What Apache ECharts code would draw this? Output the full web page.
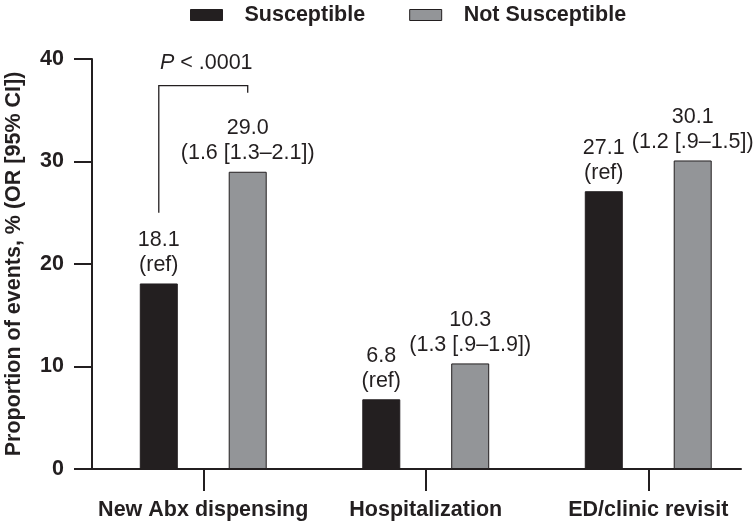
<!DOCTYPE html>
<html>
<head>
<meta charset="utf-8">
<script src="https://cdn.jsdelivr.net/npm/echarts@6/dist/echarts.min.js"></script>
<style>html,body{margin:0;padding:0;background:#fff}#c{width:754px;height:528px}</style>
</head>
<body>
<div id="c"></div>
<script>
var categories = ['New Abx dispensing', 'Hospitalization', 'ED/clinic revisit'];
var susceptible = [18.1, 6.8, 27.1];
var notSusceptible = [29.0, 10.3, 30.1];
var susceptibleLabels = ['18.1\n(ref)', '6.8\n(ref)', '27.1\n(ref)'];
var notSusceptibleLabels = ['29.0\n(1.6 [1.3\u20132.1])', '10.3\n(1.3 [.9\u20131.9])', '30.1\n(1.2 [.9\u20131.5])'];
var yTicks = [0, 10, 20, 30, 40];
// significance bracket: category index, top level, left foot, right foot
var bracketCategory = 0;
var bracketTop = 37.4;
var bracketLeftFoot = 25.0;
var bracketRightFoot = 36.7;
var bracketText = '{i|P} < .0001';

var INK = '#231f20';
var GRAY = '#939598';
var FONT = '"Liberation Sans", Arial, Helvetica, sans-serif';
var FS = 21.5;
var BAR_W = 38;
var BAR_GAP = 134; // percent

var chart = echarts.init(document.getElementById('c'), null, {renderer: 'canvas'});

function makeLabel(arr) {
  return {
    show: true, position: 'top', distance: 6,
    color: INK, fontFamily: FONT, fontSize: FS, lineHeight: 25,
    formatter: function (p) { return arr[p.dataIndex]; }
  };
}

var option = {
  animation: false,
  textStyle: {fontFamily: FONT},
  legend: {
    left: 185, top: -1,
    itemWidth: 32, itemHeight: 11, itemGap: 44,
    textStyle: {color: INK, fontSize: FS, fontWeight: 'bold', fontFamily: FONT, padding: [0, 0, 0, 17]},
    data: [
      {name: 'Susceptible', icon: 'rect', itemStyle: {color: INK, borderColor: INK, borderWidth: 1}},
      {name: 'Not Susceptible', icon: 'rect', itemStyle: {color: GRAY, borderColor: INK, borderWidth: 1}}
    ]
  },
  grid: [
    {left: 92, right: -5.5, top: 59, bottom: 59, outerBoundsMode: 'none', containLabel: false},
    {left: 92, right: 13, top: 59, bottom: 59, outerBoundsMode: 'none', containLabel: false}
  ],
  xAxis: [
    {
      type: 'category', gridIndex: 0, data: categories,
      axisLine: {show: false},
      axisTick: {show: true, alignWithLabel: true, length: 22, lineStyle: {color: INK, width: 2}},
      axisLabel: {color: INK, fontSize: FS, fontWeight: 'bold', fontFamily: FONT, margin: 30, interval: 0}
    },
    {
      type: 'value', gridIndex: 1, min: 0, max: 1,
      axisLine: {show: true, onZero: false, lineStyle: {color: INK, width: 2}},
      axisTick: {show: false}, axisLabel: {show: false}, splitLine: {show: false}
    }
  ],
  yAxis: [
    {
      type: 'value', gridIndex: 0, min: yTicks[0], max: yTicks[yTicks.length - 1], interval: 10,
      name: 'Proportion of events, % (OR [95% CI])',
      nameLocation: 'middle', nameRotate: 90, nameGap: 67,
      nameTextStyle: {color: INK, fontSize: FS, fontWeight: 'bold', fontFamily: FONT},
      axisLine: {show: true, lineStyle: {color: INK, width: 2}},
      axisTick: {show: true, length: 18, lineStyle: {color: INK, width: 2}},
      axisLabel: {color: INK, fontSize: FS, fontWeight: 'bold', fontFamily: FONT, margin: 28},
      splitLine: {show: false}
    },
    {
      type: 'value', gridIndex: 1, min: 0, max: 1, show: false
    }
  ],
  series: [
    {
      name: 'Susceptible', type: 'bar', xAxisIndex: 0, yAxisIndex: 0,
      data: susceptible, barWidth: BAR_W, barGap: BAR_GAP + '%',
      itemStyle: {color: INK, borderColor: INK, borderWidth: 1},
      label: makeLabel(susceptibleLabels)
    },
    {
      name: 'Not Susceptible', type: 'bar', xAxisIndex: 0, yAxisIndex: 0,
      data: notSusceptible, barWidth: BAR_W, barGap: BAR_GAP + '%',
      itemStyle: {color: GRAY, borderColor: INK, borderWidth: 1},
      label: makeLabel(notSusceptibleLabels)
    },
    {
      type: 'custom', xAxisIndex: 0, yAxisIndex: 0, clip: false, silent: true,
      data: [[bracketCategory, bracketTop, bracketLeftFoot, bracketRightFoot]],
      renderItem: function (params, api) {
        var cat = api.value(0);
        var center = api.coord([cat, api.value(1)]);
        var off = BAR_W * (1 + BAR_GAP / 100) / 2;
        var xl = center[0] - off, xr = center[0] + off;
        var yTop = center[1];
        var yL = api.coord([cat, api.value(2)])[1];
        var yR = api.coord([cat, api.value(3)])[1];
        return {
          type: 'group',
          children: [
            {
              type: 'polyline',
              shape: {points: [[xl, yL], [xl, yTop], [xr, yTop], [xr, yR]]},
              style: {stroke: INK, lineWidth: 1.3, fill: null}
            },
            {
              type: 'text',
              x: center[0] + 3, y: yTop - 12,
              style: {
                text: bracketText,
                align: 'center', verticalAlign: 'bottom',
                fill: INK, fontSize: FS, fontFamily: FONT,
                rich: {i: {fontStyle: 'italic', fontSize: FS, fontFamily: FONT, fill: INK}}
              }
            }
          ]
        };
      }
    }
  ]
};
chart.setOption(option);
</script>
</body>
</html>
